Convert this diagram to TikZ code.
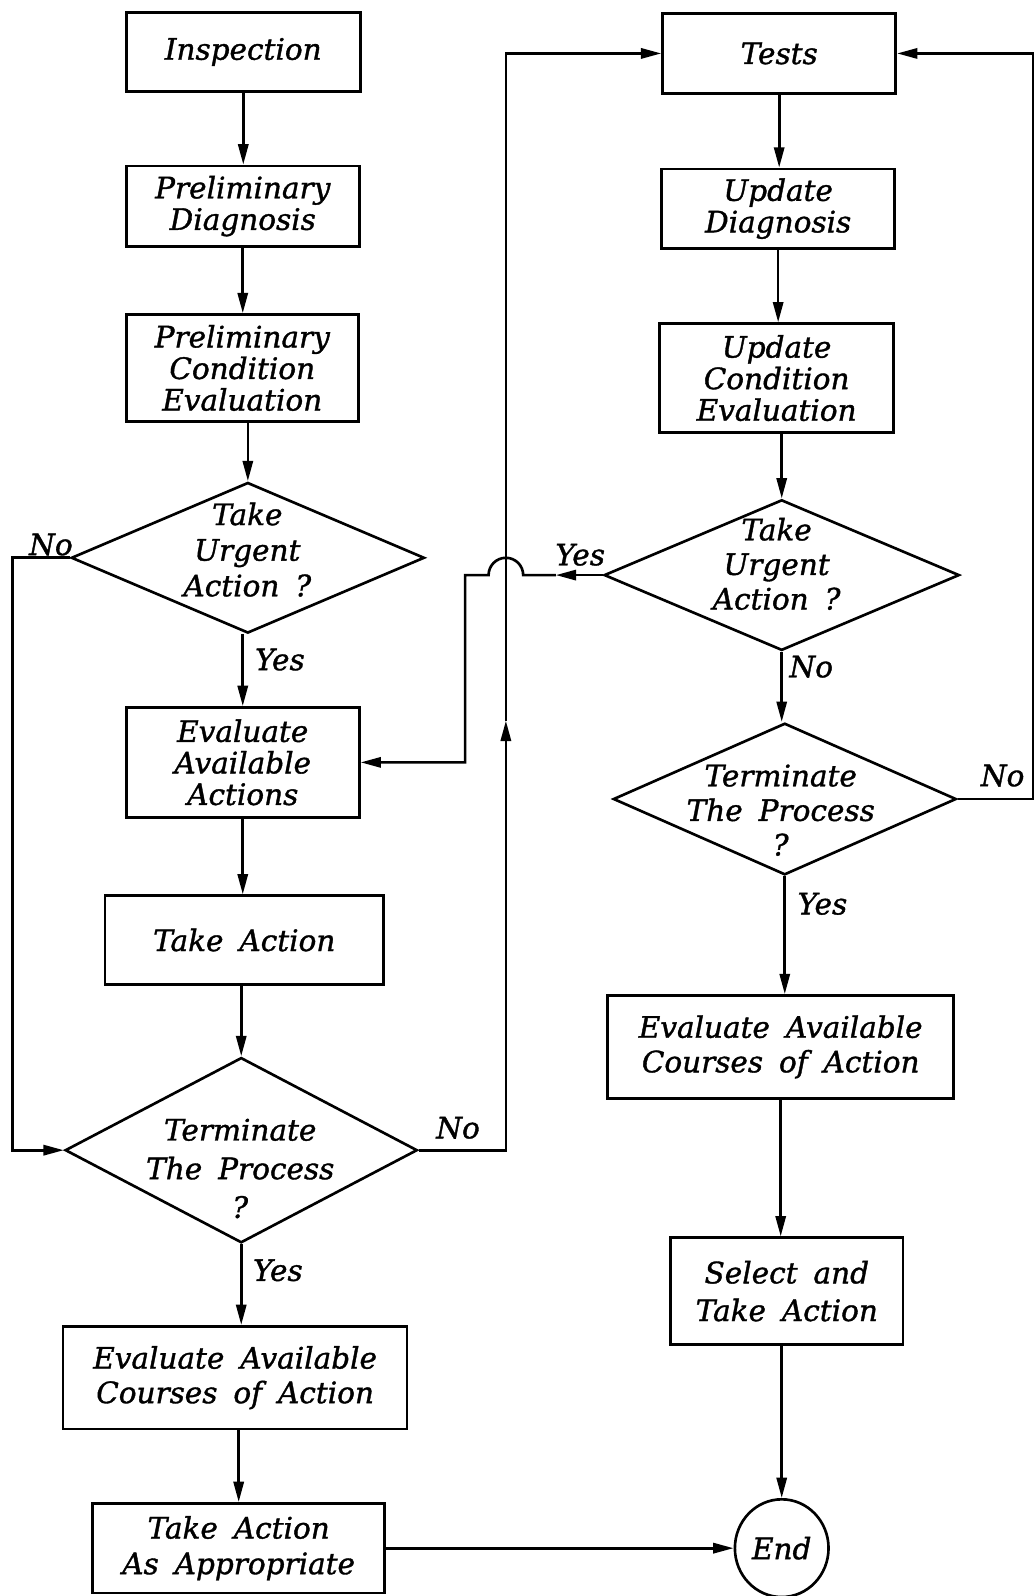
\documentclass[tikz,border=0pt]{standalone}
\usepackage{fontspec}
\usetikzlibrary{arrows.meta,shapes.geometric}
\newfontfamily\dfont[WordSpace=1.7,FakeBold=1.2]{DejaVu Serif}

\begin{document}
\begin{tikzpicture}[
  x=0.5pt, y=-0.5pt,
  every node/.style={font=\dfont\itshape\fontsize{14.5}{15.5}\selectfont},
  line/.style={line width=1.3pt},
  arr/.style={line, -{Triangle[length=10pt,width=5pt]}},
  procbox/.style={draw, line width=1.3pt, inner sep=0pt, align=center},
  decision/.style={draw, diamond, line width=1.3pt, inner sep=0pt, aspect=2},
  dtext/.style={align=center, inner sep=0pt},
  lbl/.style={inner sep=0pt},
  terminal/.style={draw, ellipse, line width=1.3pt, inner sep=0pt},
  wide/.style={font=\dfont\itshape\fontsize{14.5}{#1}\selectfont}
]
\useasboundingbox (0,0) rectangle (1017,1568);

% ---- left column ----
\node[procbox, minimum width=115pt, minimum height=39pt] (insp) at (239,51) {Inspection};
\node[procbox, minimum width=114.5pt, minimum height=39.5pt] (pdiag) at (238.5,202.5) {Preliminary\\Diagnosis};
\node[procbox, minimum width=114pt, minimum height=52.5pt] (pcond) at (238,361.5) {Preliminary\\Condition\\Evaluation};
\node[decision, minimum width=173.5pt, minimum height=74pt] (d1) at (243.5,548) {};
\node[dtext, wide=17.5pt] (d1t) at (243,540) {Take\\Urgent\\Action ?};
\node[procbox, minimum width=114.5pt, minimum height=54pt] (evala) at (238.5,749) {Evaluate\\Available\\Actions};
\node[procbox, minimum width=137pt, minimum height=43.5pt] (take) at (240,923.5) {Take Action};
\node[decision, minimum width=173pt, minimum height=91pt] (d2) at (237,1130) {};
\node[dtext, wide=19pt] (d2t) at (236,1148) {Terminate\\The Process\\?};
\node[procbox, wide=17pt, minimum width=169pt, minimum height=50.5pt] (cours1) at (231,1353.5) {Evaluate Available\\Courses of Action};
\node[procbox, wide=17.5pt, minimum width=143.5pt, minimum height=44pt] (asap) at (234.5,1521) {Take Action\\As Appropriate};

% ---- right column ----
\node[procbox, minimum width=114.5pt, minimum height=39.5pt] (tests) at (765.5,52.5) {Tests};
\node[procbox, minimum width=114.5pt, minimum height=39pt] (udiag) at (764.5,205) {Update\\Diagnosis};
\node[procbox, minimum width=115pt, minimum height=53.5pt] (ucond) at (763,371.5) {Update\\Condition\\Evaluation};
\node[decision, minimum width=174.5pt, minimum height=74pt] (d3) at (768,565) {};
\node[dtext, wide=17pt] (d3t) at (763,554) {Take\\Urgent\\Action ?};
\node[decision, minimum width=168.5pt, minimum height=74.5pt] (d4) at (771,785) {};
\node[dtext, wide=17pt] (d4t) at (767,796) {Terminate\\The Process\\?};
\node[procbox, wide=17pt, minimum width=170pt, minimum height=50.5pt] (cours2) at (767,1028.5) {Evaluate Available\\Courses of Action};
\node[procbox, wide=18.5pt, minimum width=114pt, minimum height=52.5pt] (sel) at (773,1268.5) {Select and\\Take Action};
\node[terminal, minimum width=46pt, minimum height=48pt] (endn) at (768,1521) {End};

% ---- branch labels ----
\node[lbl] (l1) at (50,535) {No};
\node[lbl] (l2) at (275,648) {Yes};
\node[lbl] (l3) at (450,1108) {No};
\node[lbl] (l4) at (273,1248) {Yes};
\node[lbl] (l5) at (570,545) {Yes};
\node[lbl] (l6) at (797,655) {No};
\node[lbl] (l7) at (985,762) {No};
\node[lbl] (l8) at (808,888) {Yes};

% routing coordinates
\coordinate (lx) at (12,0);
\coordinate (vx) at (497,0);
\coordinate (jx) at (457,0);
\coordinate (rx) at (1015,0);
\coordinate (upmid) at (497,708);
\coordinate (ltmid) at (546,565);

% ---- left column flow ----
\draw[arr] (insp.south) -- (insp.south |- pdiag.north);
\draw[arr] (pdiag.south) -- (pdiag.south |- pcond.north);
\draw[arr] (d1.north |- pcond.south) -- (d1.north);
\draw[arr] (evala.north -| d1.south) ++(0,0) (d1.south -| evala.north) -- (evala.north);
\draw[arr] (evala.south) -- (evala.south |- take.north);
\draw[arr] (d2.north |- take.south) -- (d2.north);
\draw[arr] (d2.south) -- (d2.south |- cours1.north);
\draw[arr] (cours1.south -| asap.north) -- (asap.north);
\draw[arr] (asap.east) -- (endn.west);

% No loop from the first decision back into the second
\draw[arr] (d1.west) -- (d1.west -| lx) -- (d2.west -| lx) -- (d2.west);

% No from the second decision up to Tests
\draw[arr] (d2.east) -| (upmid);
\draw[arr] (upmid) |- (tests.west);

% Yes from the right-hand urgent decision back to Evaluate Available Actions
\draw[arr] (d3.west) -- (ltmid);
\draw[arr] (ltmid) -- (514,565) arc[start angle=0, end angle=-180, radius=17] -- (jx |- d3.west) -- (jx |- evala.east) -- (evala.east);

% ---- right column flow ----
\draw[arr] (tests.south) -- (tests.south |- udiag.north);
\draw[arr] (udiag.south) -- (udiag.south |- ucond.north);
\draw[arr] (d3.north |- ucond.south) -- (d3.north);
\draw[arr] (d3.south) -- (d3.south |- d4.north);
\draw[arr] (d4.south) -- (d4.south |- cours2.north);
\draw[arr] (cours2.south) -- (cours2.south |- sel.north);
\draw[arr] (endn.north |- sel.south) -- (endn.north);

% No from the terminate decision back to Tests
\draw[arr] (d4.east) -- (d4.east -| rx) -- (rx |- tests.east) -- (tests.east);
\end{tikzpicture}
\end{document}
